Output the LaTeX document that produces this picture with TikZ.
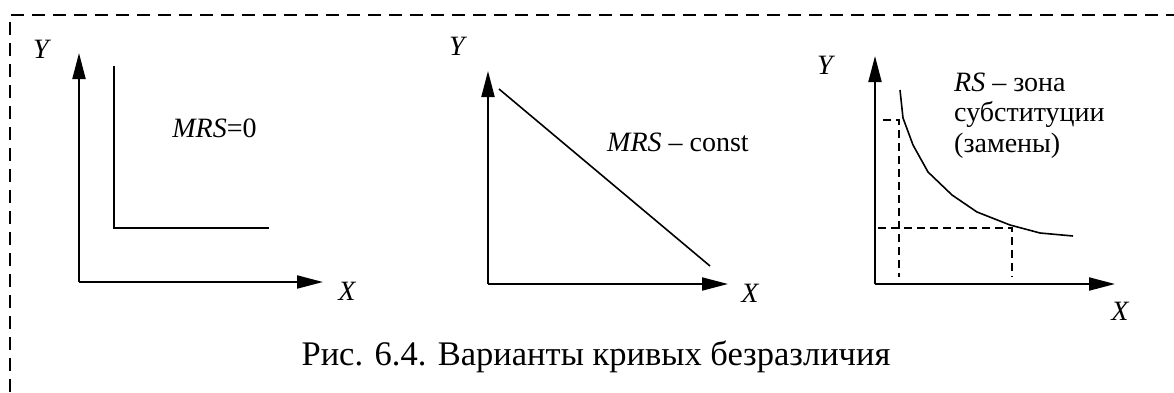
\documentclass[tikz,border=0pt]{standalone}
\usepackage{fontspec}
\setmainfont{Liberation Serif}
\usetikzlibrary{arrows.meta}

\begin{document}
\begin{tikzpicture}[x=1pt, y=-1pt,
    axis/.style={-{Triangle[length=26pt, width=13pt]}, line width=2pt},
    curve/.style={line width=1.6pt},
    guide/.style={line width=1.4pt, dash pattern=on 8pt off 5pt},
    frame/.style={line width=1.6pt, dash pattern=on 13pt off 8pt},
    lbl/.style={font=\fontsize{28}{32}\selectfont\itshape, inner sep=0pt},
    note/.style={font=\fontsize{28}{32}\selectfont, inner sep=0pt, anchor=base},
    caption/.style={font=\fontsize{34.5}{40}\selectfont, inner sep=0pt, anchor=base}
  ]
  \useasboundingbox (0,0) rectangle (1174,392);

  % Frame (runs past the page on the right and bottom)
  \draw[frame] (10,392) -- (10,15) -- (1174,15);

  % Panel 1: perfect complements
  \coordinate (o1) at (79,282);
  \coordinate (y1) at (79,53);
  \coordinate (x1) at (323,282);
  \draw[axis] (o1) -- (y1);
  \draw[axis] (o1) -- (x1);
  \node[lbl] (ylab1) at (41,49) {Y};
  \node[lbl] (xlab1) at (347,291) {X};
  \draw[curve] (114,66) -- (114,228) -- (269,228);
  \node[note] (mrszero) at (214.5,137.5) {\textit{MRS}=0};

  % Panel 2: perfect substitutes
  \coordinate (o2) at (488,284);
  \coordinate (y2) at (488,71);
  \coordinate (x2) at (728,284);
  \draw[axis] (o2) -- (y2);
  \draw[axis] (o2) -- (x2);
  \node[lbl] (ylab2) at (457,46) {Y};
  \node[lbl] (xlab2) at (750,293) {X};
  \draw[curve] (499,89) -- (710,266);
  \node[note] (mrsconst) at (678,151) {\textit{MRS} -- const};

  % Panel 3: substitution zone
  \coordinate (o3) at (875,284);
  \coordinate (y3) at (875,56);
  \coordinate (x3) at (1115,284);
  \draw[axis] (o3) -- (y3);
  \draw[axis] (o3) -- (x3);
  \node[lbl] (ylab3) at (825,65) {Y};
  \node[lbl] (xlab3) at (1120,311) {X};
  \draw[curve] (900,90) -- (903,118) -- (913,145) -- (928,172) -- (952,195)
    -- (977,212) -- (1010,225) -- (1040,233) -- (1073,236);
  \draw[guide] (883,120) -- (899,120) -- (899,277);
  \draw[guide] (878,228) -- (1012,228) -- (1012,277);
  \node[note, anchor=base west] (rs1) at (954,91) {\textit{RS} -- зона};
  \node[note, anchor=base west] (rs2) at (954,121) {субституции};
  \node[note, anchor=base west] (rs3) at (954,152) {(замены)};

  % Caption
  \node[caption] (cap) at (596,365) {Рис. 6.4. Варианты кривых безразличия};

\end{tikzpicture}
\end{document}
